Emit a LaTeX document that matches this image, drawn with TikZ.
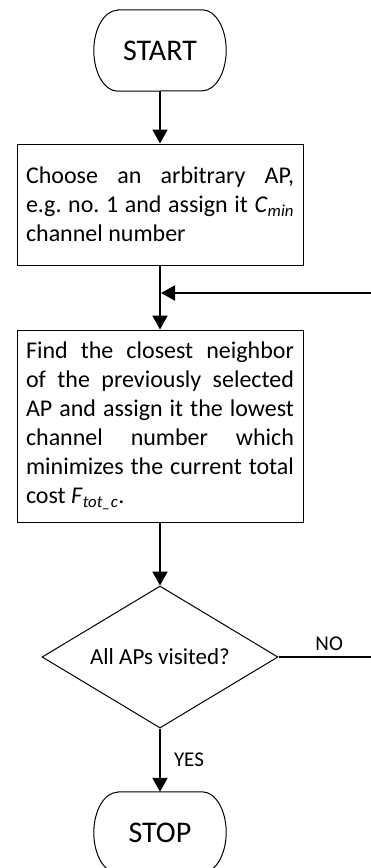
\documentclass[tikz,border=0pt]{standalone}
\usepackage{fontspec}
\setmainfont{Carlito}
\usetikzlibrary{shapes.geometric,arrows.meta}
\newcommand\termshape[1]{\draw[line width=1pt] ([xshift=24pt]#1.north west) -- ([xshift=-24pt]#1.north east) arc[start angle=90,end angle=-90,x radius=24pt,y radius=40.5pt] -- ([xshift=24pt]#1.south west) arc[start angle=270,end angle=90,x radius=24pt,y radius=40.5pt] -- cycle;}
\newcommand\boxfont{\fontsize{24}{29}\selectfont\frenchspacing\hyphenpenalty=10000\relax\exhyphenpenalty=10000\relax}
\begin{document}
\begin{tikzpicture}[x=1pt,y=1pt,
  term/.style={minimum width=132pt, minimum height=81pt, inner sep=0pt, font=\fontsize{30}{36}\selectfont},
  procbox/.style={draw, line width=1pt, text width=268pt, inner xsep=9pt, inner ysep=6pt, align=justify, font=\boxfont},
  decision/.style={draw, diamond, line width=1pt, minimum width=236pt, minimum height=142pt, aspect=1.66, inner sep=0pt, font=\fontsize{23}{28}\selectfont},
  flow/.style={line width=2pt, -{Triangle[length=14pt,width=15pt]}},
  thinflow/.style={line width=1.3pt},
  lbl/.style={font=\fontsize{21}{25}\selectfont, inner sep=0pt}
]
\path[use as bounding box] (0,0) rectangle (371,-868);
\clip (0,0) rectangle (371,-868);
\node[term] (start) at (160,-50.5) {START};
\termshape{start}
\node[procbox, minimum height=121pt] (box1) at (160,-204.5) {Choose an arbitrary AP,\linebreak e.g. no. 1 and assign it \textit{C}\textsubscript{\textit{min}}\linebreak channel number};
\node[procbox, minimum height=192pt] (box2) at (160,-426) {Find the closest neighbor\linebreak of the previously selected\linebreak AP and assign it the lowest\linebreak channel number which\linebreak minimizes the current total\linebreak cost \textit{F}\textsubscript{\textit{tot\_c}}.};
\node[decision] (dec) at (160,-657) {All APs visited?};
\node[term] (stop) at (160,-832.5) {STOP};
\termshape{stop}
\coordinate (join) at (161,-293);
\coordinate (nor) at (376,-657);
\draw[flow] (start) -- (box1);
\draw[flow] (box1) -- (box2);
\draw[flow] (box2) -- (dec);
\draw[flow] (dec) -- (stop) node[lbl, pos=0.5, anchor=west, xshift=13pt] (yes) {YES};
\draw[thinflow] (dec.east) -- (nor) node[lbl, pos=0.52, above=6pt] (no) {NO};
\draw[flow] (nor) |- (join);
\end{tikzpicture}
\end{document}
